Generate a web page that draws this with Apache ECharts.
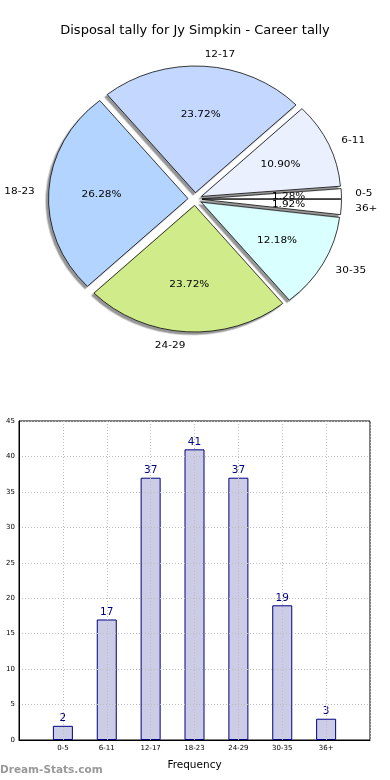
<!DOCTYPE html>
<html>
<head>
<meta charset="utf-8">
<script src="https://cdn.jsdelivr.net/npm/echarts@6/dist/echarts.min.js"></script>
<style>
html, body { margin: 0; padding: 0; background: #ffffff; }
#bar { position: absolute; left: 0; top: 0; width: 390px; height: 780px; }
#pie { position: absolute; left: 0; top: 0; width: 390px; height: 400px;
       transform: scaleY(0.908); transform-origin: 195px 199px; }
</style>
</head>
<body>
<div id="bar"></div>
<div id="pie"></div>
<script>
// ---- data ----
const titleText = 'Disposal tally for Jy Simpkin - Career tally';
const categories = ['0-5', '6-11', '12-17', '18-23', '24-29', '30-35', '36+'];
const counts = [2, 17, 37, 41, 37, 19, 3];
const sliceColors = ['#ffffff', '#ebf0ff', '#c4d8ff', '#b3d4ff', '#d0eb8a', '#d9ffff', '#ffffff'];
const yTicks = { min: 0, max: 45, interval: 5 };
const xAxisName = 'Frequency';
const watermark = 'Dream-Stats.com';

const FONT = 'DejaVu Sans';

// ---- pie ----
const pieChart = echarts.init(document.getElementById('pie'), null, { renderer: 'svg' });
const R = 139.5;
const explode = 7;
const pieData = categories.map((c, i) => ({
  name: c, value: counts[i], selected: true,
  itemStyle: { color: sliceColors[i] }
}));
const labelData = categories.map((c, i) => ({ name: c, value: counts[i], selected: true }));

pieChart.setOption({
  animation: false,
  series: [
    {
      type: 'pie',
      center: [195, 199],
      radius: [0, R],
      startAngle: 0,
      clockwise: false,
      selectedMode: 'multiple',
      selectedOffset: explode,
      avoidLabelOverlap: false,
      labelLayout: { hideOverlap: false },
      silent: true,
      itemStyle: {
        borderColor: '#000', borderWidth: 0.8,
        shadowColor: 'rgba(60,60,60,0.55)', shadowBlur: 0,
        shadowOffsetX: -2.5, shadowOffsetY: 2.8
      },
      label: {
        show: true, position: 'outside', fontSize: 10.5, fontFamily: FONT,
        color: '#000', distanceToLabelLine: 0, overflow: 'none'
      },
      labelLine: { show: false, length: 14, length2: 0 },
      emphasis: { disabled: true },
      data: pieData
    },
    {
      type: 'pie',
      center: [195, 199],
      radius: [0, R * 1.2],
      startAngle: 0,
      clockwise: false,
      selectedMode: 'multiple',
      selectedOffset: explode,
      avoidLabelOverlap: false,
      labelLayout: { hideOverlap: false },
      minShowLabelAngle: 0,
      silent: true,
      percentPrecision: 2,
      itemStyle: { color: 'rgba(0,0,0,0)', borderWidth: 0 },
      label: {
        show: true, position: 'inside', fontSize: 10.5, fontFamily: FONT,
        color: '#000', overflow: 'none',
        formatter: p => p.percent.toFixed(2) + '%'
      },
      labelLine: { show: false },
      emphasis: { disabled: true },
      data: labelData
    }
  ]
});

// ---- bar ----
const barChart = echarts.init(document.getElementById('bar'));
const axisCats = [''].concat(categories).concat([' ']);
const gridLine = { show: true, lineStyle: { color: '#bdbdbd', type: [1, 2], width: 1 } };

barChart.setOption({
  animation: false,
  title: {
    text: titleText, left: 'center', top: 19,
    textStyle: { fontFamily: FONT, fontSize: 13, fontWeight: 'normal', color: '#000' }
  },
  grid: {
    left: 19, right: 20, top: 421, bottom: 40,
    show: true, borderColor: '#000', borderWidth: 1, backgroundColor: 'transparent'
  },
  xAxis: {
    type: 'category', data: axisCats, boundaryGap: false, z: 5,
    axisLine: { show: true, lineStyle: { color: '#000', width: 1 } },
    axisTick: { show: false },
    axisLabel: { fontSize: 7, fontFamily: FONT, color: '#000', margin: 5, interval: 0 },
    splitLine: gridLine,
    name: xAxisName, nameLocation: 'middle', nameGap: 20,
    nameTextStyle: { fontSize: 10.5, fontFamily: FONT, color: '#000' }
  },
  yAxis: {
    type: 'value', min: yTicks.min, max: yTicks.max, interval: yTicks.interval, z: 5,
    axisLine: { show: true, lineStyle: { color: '#000', width: 1 } },
    axisTick: { show: false },
    axisLabel: { fontSize: 7, fontFamily: FONT, color: '#000', margin: 4 },
    splitLine: gridLine
  },
  series: [{
    type: 'bar',
    barWidth: 20,
    data: categories.map((c, i) => [c, counts[i]]),
    itemStyle: { color: '#cccce6', borderColor: '#000080', borderWidth: 1 },
    label: { show: true, position: 'top', distance: 2, color: '#000080', fontSize: 10.5, fontFamily: FONT },
    emphasis: { disabled: true }
  }],
  graphic: [{
    type: 'text', left: 0, top: 765,
    style: { text: watermark, fontSize: 10.5, fontWeight: 'bold', fontFamily: FONT, fill: '#999' }
  }]
});
</script>
</body>
</html>
